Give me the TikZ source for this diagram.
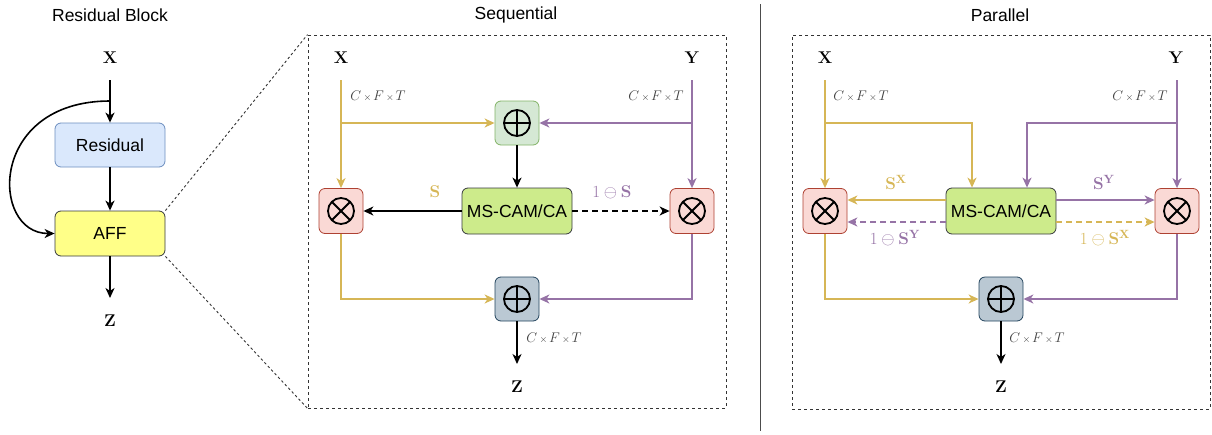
\RequirePackage{fix-cm}
\documentclass[tikz,border=0pt]{standalone}
\usepackage[no-math]{fontspec}
\newfontfamily\arialf{Liberation Sans}
\usetikzlibrary{arrows.meta,calc}
\definecolor{cgold}{HTML}{D6B656}
\definecolor{cpurp}{HTML}{9673A6}
\definecolor{gfill}{HTML}{D5E8D4}\definecolor{gline}{HTML}{82B366}
\definecolor{msfill}{HTML}{CDEB8B}\definecolor{msline}{HTML}{36393D}
\definecolor{rfill}{HTML}{FAD9D5}\definecolor{rline}{HTML}{AE4132}
\definecolor{bfill}{HTML}{BAC8D3}\definecolor{bline}{HTML}{23445D}
\definecolor{resfill}{HTML}{DAE8FC}\definecolor{resline}{HTML}{6C8EBF}
\definecolor{afffill}{HTML}{FFFF88}
\tikzset{
  tip/.style={-{Stealth[length=10pt,width=9pt,inset=3pt]}},
  ln/.style={line width=1.6pt},
  bk/.style={ln, tip, black},
  gd/.style={ln, tip, cgold},
  pp/.style={ln, tip, cpurp},
  dsh/.style={dash pattern=on 6pt off 4pt},
  title/.style={font=\arialf\fontsize{17.5}{20}\selectfont},
  blockbox/.style={draw, rounded corners=6pt, line width=0.8pt, font=\arialf\fontsize{17.5}{20}\selectfont, minimum width=110pt, minimum height=45pt, inner sep=0pt},
  opbox/.style={draw, rounded corners=6pt, line width=0.8pt, minimum width=44pt, minimum height=44pt, inner sep=0pt},
  opplus/.style={opbox, path picture={
     \draw[black, line width=1.8pt] (path picture bounding box.center) circle (13pt);
     \draw[black, line width=1.8pt] ([xshift=-13pt]path picture bounding box.center) -- ([xshift=13pt]path picture bounding box.center);
     \draw[black, line width=1.8pt] ([yshift=-13pt]path picture bounding box.center) -- ([yshift=13pt]path picture bounding box.center);}},
  optimes/.style={opbox, path picture={
     \draw[black, line width=1.8pt] (path picture bounding box.center) circle (13pt);
     \draw[black, line width=1.8pt] ([shift={(-9.2pt,-9.2pt)}]path picture bounding box.center) -- ([shift={(9.2pt,9.2pt)}]path picture bounding box.center);
     \draw[black, line width=1.8pt] ([shift={(-9.2pt,9.2pt)}]path picture bounding box.center) -- ([shift={(9.2pt,-9.2pt)}]path picture bounding box.center);}},
  var/.style={font=\fontsize{17}{19}\selectfont, inner sep=0pt},
  dim/.style={font=\fontsize{14}{16}\selectfont, text=black!75, inner sep=0pt},
  dotbox/.style={draw, black!80, line width=0.9pt, dash pattern=on 3pt off 3pt, minimum width=418pt, inner sep=0pt},
  dotline/.style={black!80, line width=0.9pt, dash pattern=on 2.5pt off 2.5pt},
}
\newcommand{\cft}{$C{\,\scriptstyle\times\,}F{\,\scriptstyle\times\,}T$}
\begin{document}
\begin{tikzpicture}[x=1pt,y=-1pt]
\useasboundingbox (0,0) rectangle (1212,434);

% ---------- Residual block ----------
\node[title] (t1) at (110,15) {Residual Block};
\node[var] (rX) at (110,58) {$\mathbf{X}$};
\coordinate (rXs) at (110,80);
\node[blockbox, fill=resfill, draw=resline, minimum height=44pt] (res) at (110,145) {Residual};
\node[blockbox, fill=afffill, draw=msline] (aff) at (110,233.5) {AFF};
\coordinate (rZe) at (110,298);
\node[var] (rZ) at (110,321) {$\mathbf{Z}$};
\draw[bk] (rXs) -- (res.north);
\draw[bk] (res.south) -- (aff.north);
\draw[bk] (aff.south) -- (rZe);
\draw[bk] (110,101) .. controls (-12,101) and (-10,233.5) .. (aff.west);

% ---------- Sequential ----------
\node[title] (t2) at (516,15) {Sequential};
\node[dotbox, minimum height=373pt] (seqbox) at (517,221.5) {};
\draw[dotline] (aff.north east) -- (seqbox.north west);
\draw[dotline] (aff.south east) -- (seqbox.south west);

\node[var] (sX) at (341,58) {$\mathbf{X}$};
\node[var] (sY) at (692,58) {$\mathbf{Y}$};
\coordinate (sXs) at (341,80);
\coordinate (sYs) at (692,80);
\node[opplus, fill=gfill, draw=gline] (sPa) at (517,123) {};
\node[blockbox, fill=msfill, draw=msline, minimum height=46pt] (sMS) at (517,211) {MS-CAM/CA};
\node[optimes, fill=rfill, draw=rline, minimum height=45pt] (sTl) at (341,211) {};
\node[optimes, fill=rfill, draw=rline, minimum height=45pt] (sTr) at (692,211) {};
\node[opplus, fill=bfill, draw=bline] (sPb) at (517,299) {};
\coordinate (sZe) at (517,364);
\node[var] (sZ) at (517,387) {$\mathbf{Z}$};

\node[dim] (sd1) at (378,96) {\cft};
\node[dim] (sd2) at (656,96) {\cft};
\node[dim] (sd3) at (554,338) {\cft};

\draw[gd] (sXs) -- (sTl.north);
\draw[gd] (sXs |- sPa.west) -- (sPa.west);
\draw[pp] (sYs) -- (sTr.north);
\draw[pp] (sYs |- sPa.east) -- (sPa.east);
\draw[bk] (sPa.south) -- (sMS.north);
\draw[bk] (sMS.west) -- (sTl.east);
\draw[bk, dsh] (sMS.east) -- (sTr.west);
\draw[gd] (sTl.south) |- (sPb.west);
\draw[pp] (sTr.south) |- (sPb.east);
\draw[bk] (sPb.south) -- (sZe);
\node[var, text=cgold] (sS) at (435,192) {$\mathbf{S}$};
\node[var, text=cpurp] (sS1) at (612,192) {$1\ominus\mathbf{S}$};

% ---------- separator ----------
\coordinate (sepT) at (760,4);
\coordinate (sepB) at (760,431);
\draw[black!70, line width=1pt] (sepT) -- (sepB);

% ---------- Parallel ----------
\node[title] (t3) at (1000,15) {Parallel};
\node[dotbox, minimum height=374pt] (parbox) at (1001,222) {};

\node[var] (pX) at (825,58) {$\mathbf{X}$};
\node[var] (pY) at (1176,58) {$\mathbf{Y}$};
\coordinate (pXs) at (825,80);
\coordinate (pYs) at (1177,80);
\node[blockbox, fill=msfill, draw=msline, minimum height=46pt] (pMS) at (1001,211) {MS-CAM/CA};
\node[optimes, fill=rfill, draw=rline, minimum height=45pt] (pTl) at (825,211) {};
\node[optimes, fill=rfill, draw=rline, minimum height=45pt] (pTr) at (1177,211) {};
\node[opplus, fill=bfill, draw=bline] (pPb) at (1001,299) {};
\coordinate (pZe) at (1001,364);
\node[var] (pZ) at (1001,387) {$\mathbf{Z}$};

\node[dim] (pd1) at (861,96) {\cft};
\node[dim] (pd2) at (1140,96) {\cft};
\node[dim] (pd3) at (1037,338) {\cft};

\draw[gd] (pXs) -- (pTl.north);
\draw[gd] (pXs |- 0,123) -| ([xshift=-29pt]pMS.north);
\draw[pp] (pYs) -- (pTr.north);
\draw[pp] (pYs |- 0,123) -| ([xshift=26pt]pMS.north);

\draw[gd] ([yshift=11pt]pMS.west) -- ([yshift=11pt]pMS.west -| pTl.east);
\draw[pp, dsh] ([yshift=-11pt]pMS.west) -- ([yshift=-11pt]pMS.west -| pTl.east);
\draw[pp] ([yshift=11pt]pMS.east) -- ([yshift=11pt]pMS.east -| pTr.west);
\draw[gd, dsh] ([yshift=-11pt]pMS.east) -- ([yshift=-11pt]pMS.east -| pTr.west);

\draw[gd] (pTl.south) |- (pPb.west);
\draw[pp] (pTr.south) |- (pPb.east);
\draw[bk] (pPb.south) -- (pZe);

\node[var, text=cgold] (pSX) at (896,182) {$\mathbf{S}^{\mathbf{X}}$};
\node[var, text=cpurp] (pSY) at (1104,182) {$\mathbf{S}^{\mathbf{Y}}$};
\node[var, text=cpurp] (pS1Y) at (895,238) {$1\ominus\mathbf{S}^{\mathbf{Y}}$};
\node[var, text=cgold] (pS1X) at (1105,238) {$1\ominus\mathbf{S}^{\mathbf{X}}$};
\end{tikzpicture}
\end{document}
